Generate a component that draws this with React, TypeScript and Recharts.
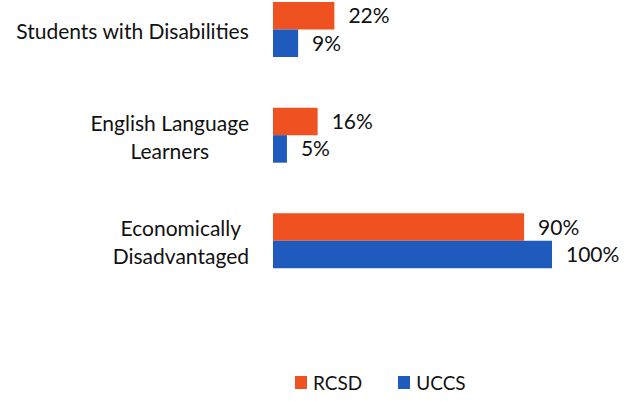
import { Bar, BarChart, LabelList, Legend, XAxis, YAxis } from "recharts";

const categories = ["Students with Disabilities", "English Language\nLearners", "Economically\nDisadvantaged"];
const rcsdValues = [22, 16, 90];
const uccsValues = [9, 5, 100];
const seriesNames = ["RCSD", "UCCS"];

const ORANGE = "#EF5220";
const BLUE = "#1F5BBD";
const FONT = "Lato, 'Liberation Sans', sans-serif";
const FONT_SIZE = 21;

const data = categories.map((name, i) => ({
  name,
  rcsd: rcsdValues[i],
  uccs: uccsValues[i],
}));

let measureCtx: CanvasRenderingContext2D | null = null;
function textWidth(s: string) {
  if (!measureCtx) measureCtx = document.createElement("canvas").getContext("2d");
  if (!measureCtx) return s.length * FONT_SIZE * 0.5;
  measureCtx.font = `${FONT_SIZE}px Lato`;
  return measureCtx.measureText(s).width;
}

function CategoryTick({ x, y, payload }: any) {
  const lines = String(payload.value).split("\n");
  const maxW = Math.max(...lines.map(textWidth));
  const cx = x - maxW / 2;
  const first = y + 9 - (lines.length - 1) * 14;
  return (
    <g>
      {lines.map((line, i) => (
        <text
          key={i}
          x={cx}
          y={first + i * 28}
          textAnchor="middle"
          fontFamily={FONT}
          fontSize={FONT_SIZE}
          fill="#111"
        >
          {line}
        </text>
      ))}
    </g>
  );
}

function LegendContent() {
  const colors = [ORANGE, BLUE];
  return (
    <div style={{ display: "flex", alignItems: "center", fontFamily: FONT, fontSize: 19, color: "#111" }}>
      {seriesNames.map((n, i) => (
        <div key={n} style={{ display: "flex", alignItems: "center", marginRight: 36 }}>
          <span style={{ width: 12, height: 13, background: colors[i], marginRight: 6, display: "inline-block" }} />
          <span>{n}</span>
        </div>
      ))}
    </div>
  );
}

export default function App() {
  return (
    <div style={{ position: "absolute", left: 0, top: -23 }}>
      <BarChart
        width={624}
        height={424}
        data={data}
        layout="vertical"
        margin={{ top: 0, right: 72, left: 0, bottom: 84 }}
        barSize={27.5}
        barGap={0}
      >
        <XAxis type="number" domain={[0, 100]} hide />
        <YAxis
          type="category"
          dataKey="name"
          width={273}
          axisLine={false}
          tickLine={false}
          tick={(props: any) => <CategoryTick {...props} x={249} />}
          interval={0}
        />
        <Legend
          content={<LegendContent />}
          wrapperStyle={{ position: "absolute", left: 295, top: 394, width: 240 }}
        />
        <Bar dataKey="rcsd" name="RCSD" fill={ORANGE} isAnimationActive={false}>
          <LabelList
            dataKey="rcsd"
            position="right"
            offset={14}
            formatter={(v: any) => `${v}%`}
            fill="#111"
            fontFamily={FONT}
            fontSize={FONT_SIZE}
          />
        </Bar>
        <Bar dataKey="uccs" name="UCCS" fill={BLUE} isAnimationActive={false}>
          <LabelList
            dataKey="uccs"
            position="right"
            offset={14}
            formatter={(v: any) => `${v}%`}
            fill="#111"
            fontFamily={FONT}
            fontSize={FONT_SIZE}
          />
        </Bar>
      </BarChart>
    </div>
  );
}
